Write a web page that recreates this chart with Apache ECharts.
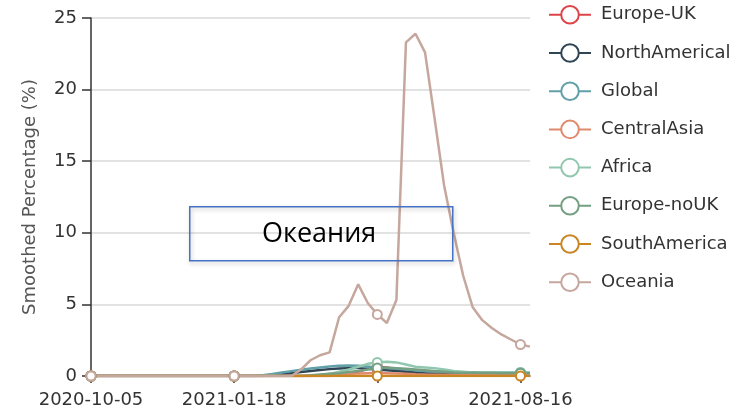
<!DOCTYPE html>
<html>
<head>
<meta charset="utf-8">
<script src="https://cdn.jsdelivr.net/npm/echarts@6/dist/echarts.min.js"></script>
<style>html,body{margin:0;padding:0;background:#fff}#c{width:745px;height:409px}</style>
</head>
<body>
<div id="c"></div>
<script>
var dates = ['2020-10-05','2020-10-12','2020-10-19','2020-10-26','2020-11-02','2020-11-09','2020-11-16','2020-11-23','2020-11-30','2020-12-07','2020-12-14','2020-12-21','2020-12-28','2021-01-04','2021-01-11','2021-01-18','2021-01-25','2021-02-01','2021-02-08','2021-02-15','2021-02-22','2021-03-01','2021-03-08','2021-03-15','2021-03-22','2021-03-29','2021-04-05','2021-04-12','2021-04-19','2021-04-26','2021-05-03','2021-05-10','2021-05-17','2021-05-24','2021-05-31','2021-06-07','2021-06-14','2021-06-21','2021-06-28','2021-07-05','2021-07-12','2021-07-19','2021-07-26','2021-08-02','2021-08-09','2021-08-16','2021-08-23'];

var europeUK = [0,0,0,0,0,0,0,0,0,0,0,0,0,0,0,0,0,0,0,0,0,0,0,0,0,0,0.05,0.15,0.3,0.5,0.65,0.6,0.45,0.3,0.2,0.15,0.12,0.12,0.11,0.11,0.1,0.1,0.1,0.1,0.1,0.1,0.1];
var northAmerical = [0,0,0,0,0,0,0,0,0,0,0,0,0,0,0,0,0,0,0,0.05,0.12,0.2,0.28,0.35,0.42,0.48,0.52,0.55,0.55,0.5,0.45,0.4,0.35,0.3,0.25,0.2,0.18,0.17,0.16,0.15,0.15,0.14,0.14,0.13,0.13,0.12,0.12];
var global = [0,0,0,0,0,0,0,0,0,0,0,0,0,0,0,0,0,0,0.05,0.14,0.24,0.34,0.44,0.52,0.6,0.66,0.72,0.74,0.72,0.66,0.6,0.55,0.5,0.45,0.4,0.35,0.32,0.3,0.28,0.27,0.26,0.25,0.25,0.24,0.24,0.23,0.23];
var centralAsia = [0,0,0,0,0,0,0,0,0,0,0,0,0,0,0,0,0,0,0,0,0,0,0,0,0.05,0.1,0.12,0.15,0.18,0.2,0.22,0.2,0.18,0.15,0.12,0.1,0.09,0.08,0.08,0.08,0.08,0.08,0.08,0.08,0.08,0.08,0.08];
var africa = [0,0,0,0,0,0,0,0,0,0,0,0,0,0,0,0,0,0,0,0,0,0,0,0,0.05,0.15,0.3,0.45,0.65,0.85,0.95,1.0,0.95,0.8,0.65,0.6,0.55,0.45,0.35,0.3,0.25,0.25,0.25,0.25,0.25,0.25,0.25];
var europeNoUK = [0,0,0,0,0,0,0,0,0,0,0,0,0,0,0,0,0,0,0,0,0,0,0,0.05,0.1,0.15,0.2,0.28,0.35,0.45,0.55,0.6,0.55,0.5,0.45,0.4,0.35,0.3,0.25,0.22,0.22,0.21,0.21,0.2,0.2,0.2,0.2];
var southAmerica = [0,0,0,0,0,0,0,0,0,0,0,0,0,0,0,0,0,0,0,0,0,0,0,0,0,0,0,0,0,0,0,0,0,0,0,0,0,0,0,0,0,0,0,0,0,0,0];
var oceania = [0,0,0,0,0,0,0,0,0,0,0,0,0,0,0,0,0,0,0,0,0,0,0.45,1.1,1.45,1.65,4.1,4.9,6.4,5.1,4.3,3.7,5.3,23.3,23.9,22.6,18.0,13.3,10.0,7.0,4.8,3.9,3.35,2.9,2.55,2.2,2.05];

var seriesNames = ['Europe-UK','NorthAmerical','Global','CentralAsia','Africa','Europe-noUK','SouthAmerica','Oceania'];
var seriesData = [europeUK, northAmerical, global, centralAsia, africa, europeNoUK, southAmerica, oceania];
var colors = ['#dd4448','#2f4554','#61a0a8','#e08a6d','#91c7ae','#749f83','#ca8622','#c6a79e'];
var yTicks = [0,5,10,15,20,25];
var annotation = 'Океания';

var chart = echarts.init(document.getElementById('c'), null, {renderer:'canvas'});
var font = 'DejaVu Sans, sans-serif';
chart.setOption({
  animation: false,
  color: colors,
  textStyle: {fontFamily: font},
  grid: {left: 91, right: 215, top: 18, bottom: 32, containLabel: false},
  legend: {
    orient: 'vertical', left: 543, top: 0, padding: [5,5,5,5],
    itemWidth: 42, itemHeight: 22, itemGap: 18.6,
    textStyle: {fontSize: 18, color: '#333', fontFamily: font, padding: [0,0,0,5]},
    data: seriesNames
  },
  xAxis: {
    type: 'category', boundaryGap: false, data: dates,
    axisLine: {lineStyle: {color: '#333', width: 1.5}},
    axisTick: {interval: 14, length: 7, lineStyle: {color: '#333', width: 1.5}},
    axisLabel: {interval: 14, fontSize: 18, color: '#333', margin: 15, fontFamily: font}
  },
  yAxis: {
    type: 'value', min: yTicks[0], max: yTicks[yTicks.length-1], interval: 5,
    name: 'Smoothed Percentage (%)', nameLocation: 'middle', nameGap: 52, nameRotate: 90,
    nameTextStyle: {fontSize: 18, color: '#555', fontFamily: font},
    axisLine: {show: true, lineStyle: {color: '#333', width: 1.5}},
    axisTick: {show: true, length: 9, lineStyle: {color: '#333', width: 1.5}},
    axisLabel: {fontSize: 18, color: '#333', margin: 14, fontFamily: font},
    splitLine: {lineStyle: {color: '#d8d8d8', width: 1.5}}
  },
  series: seriesNames.map(function(n, i){
    return {
      name: n, type: 'line', data: seriesData[i],
      symbol: 'emptyCircle', symbolSize: 9,
      lineStyle: {width: 2.5},
      itemStyle: {borderWidth: 2}
    };
  }),
  graphic: [
    {type: 'rect', left: 189, top: 206, z: 100,
     shape: {width: 263, height: 54},
     style: {fill: 'rgba(0,0,0,0)', stroke: '#4472c4', lineWidth: 1.5, shadowBlur: 4, shadowColor: 'rgba(0,0,0,0.25)', shadowOffsetX: 1, shadowOffsetY: 2}},
    {type: 'text', left: 262, top: 221, z: 101,
     style: {text: annotation, fontSize: 27, fontFamily: 'Open Sans, Noto Sans, sans-serif', fill: '#000'}}
  ]
});
</script>
</body>
</html>
